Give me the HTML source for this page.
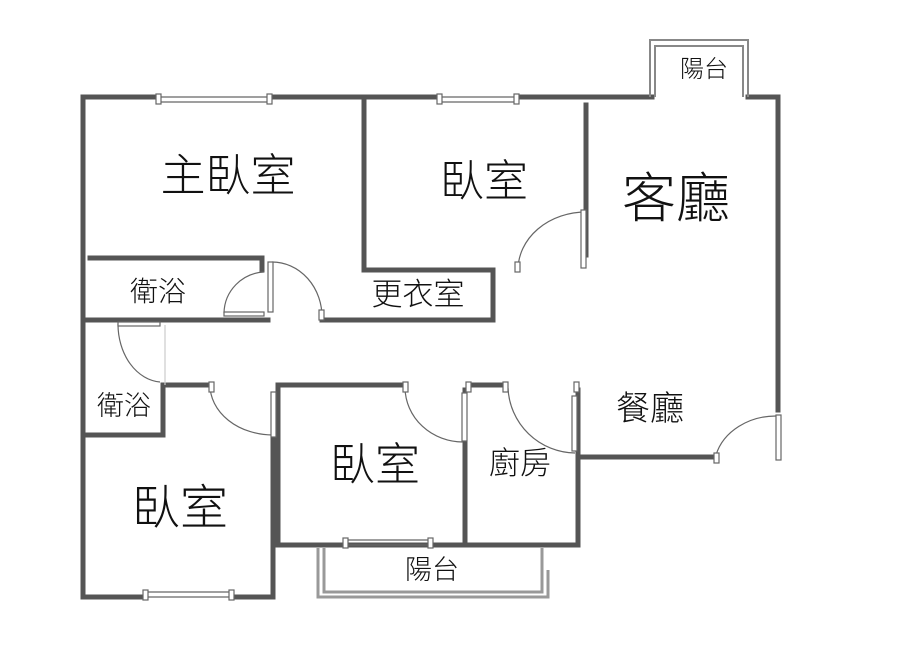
<!DOCTYPE html>
<html><head><meta charset="utf-8"><style>
body{margin:0;background:#fff;width:900px;height:649px;overflow:hidden}
text{font-family:"Liberation Sans","Noto Sans CJK TC",sans-serif;fill:#111;text-anchor:middle;font-weight:300}
</style></head><body>
<svg width="900" height="649" viewBox="0 0 900 649" xmlns="http://www.w3.org/2000/svg">
<g stroke="#555" stroke-width="5" fill="none" stroke-linecap="square">
<path d="M83 97 V597"/>
<path d="M83 97 H158 M270 97 H440 M517 97 H652 M748 97 H778 V410"/>
<path d="M83 597 H145 M232 597 H273 V395"/>
<path d="M364 97 V270 H493 V320 H322"/>
<path d="M586 105 V255"/>
<path d="M90 258 H262 V270"/>
<path d="M83 320 H268"/>
<path d="M163 385 V435 H83"/>
<path d="M167 385 H210 M278 385 H405 M470 385 H505"/>
<path d="M278 385 V545 H578 V390"/>
<path d="M465 390 V545"/>
<path d="M583 457 H715"/>
</g>
<g stroke="#666" stroke-width="1.2" fill="none">
<path d="M158 97 H270 M158 102 H270 M440 97 H517 M440 102 H517 M145 597 H232 M145 592 H232 M345 545 H430 M345 540 H430"/>
<rect x="156" y="94" width="5" height="10" fill="#fff"/><rect x="267" y="94" width="5" height="10" fill="#fff"/>
<rect x="437" y="94" width="5" height="10" fill="#fff"/><rect x="514" y="94" width="5" height="10" fill="#fff"/>
<rect x="143" y="590" width="5" height="10" fill="#fff"/><rect x="229" y="590" width="5" height="10" fill="#fff"/>
<rect x="343" y="538" width="5" height="10" fill="#fff"/><rect x="428" y="538" width="5" height="10" fill="#fff"/>
<path d="M650 97 V40 H748 V97 M655 97 V46 H743 V97" stroke="#888" stroke-width="2"/>
<path d="M318 548 V597 H548 V570 M324 548 V592 H542 V548" stroke="#999" stroke-width="3"/>
<path d="M518 270 A68 58 0 0 1 586 212"/><rect x="581" y="210" width="5" height="58" fill="#fff"/><rect x="515" y="262" width="5" height="10" fill="#fff"/>
<path d="M272 262 A50 55 0 0 1 322 318"/><rect x="268" y="262" width="5" height="50" fill="#fff"/><rect x="319" y="310" width="5" height="10" fill="#fff"/>
<path d="M224 313 A42 42 0 0 1 264 272"/><rect x="224" y="312" width="40" height="4" fill="#fff"/>
<path d="M118 324 A45 58 0 0 0 160 382"/><rect x="118" y="322" width="42" height="4" fill="#fff"/><path d="M165 325 V385" stroke="#ccc"/>
<path d="M210 385 A63 50 0 0 0 273 435"/><rect x="209" y="382" width="5" height="10" fill="#fff"/><rect x="271" y="392" width="5" height="45" fill="#fff"/>
<path d="M405 388 A58 55 0 0 0 463 442"/><rect x="403" y="382" width="5" height="10" fill="#fff"/><rect x="462" y="393" width="5" height="48" fill="#fff"/>
<path d="M508 388 A68 68 0 0 0 575 453"/><rect x="466" y="382" width="5" height="10" fill="#fff"/><rect x="503" y="382" width="5" height="10" fill="#fff"/><rect x="574" y="382" width="5" height="10" fill="#fff"/><rect x="572" y="396" width="5" height="55" fill="#fff"/>
<path d="M716 455 A62 52 0 0 1 778 416"/><rect x="714" y="453" width="5" height="10" fill="#fff"/><rect x="776" y="415" width="5" height="45" fill="#fff"/>
</g>
<text x="228" y="191" font-size="45">主臥室</text>
<text x="484" y="196" font-size="44">臥室</text>
<text x="676" y="217" font-size="54">客廳</text>
<text x="158" y="301" font-size="28">衛浴</text>
<text x="418" y="305" font-size="31">更衣室</text>
<text x="124" y="415" font-size="27">衛浴</text>
<text x="650" y="420" font-size="34">餐廳</text>
<text x="180" y="524" font-size="48">臥室</text>
<text x="375" y="480" font-size="45">臥室</text>
<text x="520" y="474" font-size="31">廚房</text>
<text x="432" y="579" font-size="27">陽台</text>
<text x="704" y="77" font-size="24">陽台</text>
</svg>
</body></html>
